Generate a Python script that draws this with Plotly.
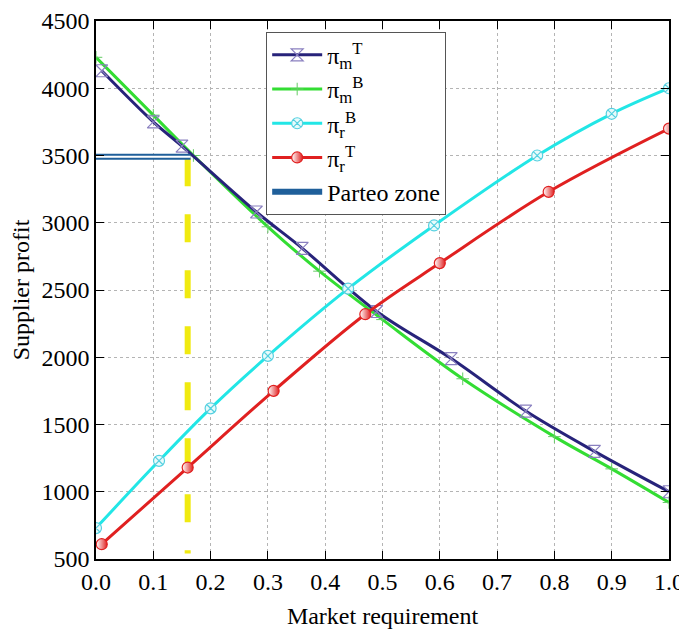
import plotly.graph_objects as go

# Data
x_mT = [0.01, 0.10, 0.15, 0.28, 0.36, 0.49, 0.62, 0.75, 0.87, 1.00]
y_mT = [4130, 3750, 3570, 3080, 2810, 2340, 1990, 1600, 1300, 1000]

x_mB = [0.00, 0.10, 0.17, 0.30, 0.39, 0.50, 0.64, 0.80, 0.90, 1.00]
y_mB = [4230, 3800, 3500, 2970, 2640, 2280, 1840, 1410, 1170, 920]

x_rB = [0.00, 0.11, 0.20, 0.30, 0.44, 0.59, 0.77, 0.90, 1.00]
y_rB = [730, 1230, 1620, 2010, 2510, 2980, 3500, 3810, 4000]

x_rT = [0.01, 0.16, 0.31, 0.47, 0.60, 0.79, 1.00]
y_rT = [610, 1180, 1750, 2320, 2700, 3230, 3700]

pareto_x = [0.0, 0.165]
pareto_y = [3490, 3490]
vline_x = [0.16, 0.16]
vline_y = [3480, 540]

x_ticks = [0.0, 0.1, 0.2, 0.3, 0.4, 0.5, 0.6, 0.7, 0.8, 0.9, 1.0]
y_ticks = [500, 1000, 1500, 2000, 2500, 3000, 3500, 4000, 4500]

FONT = "Liberation Serif"
FS = 24

fig = go.Figure()

fig.add_trace(go.Scatter(x=vline_x, y=vline_y, mode="lines", showlegend=False,
                         line=dict(color="#f0ea10", width=6, dash="28px,28px")))

fig.add_trace(go.Scatter(x=x_mB, y=y_mB, mode="lines+markers", name="π<sub>m</sub><sup>B</sup>",
                         legendrank=2,
                         line=dict(color="#33dd33", width=3, shape="spline"),
                         marker=dict(symbol="cross-thin-open", size=9, color="#66cc66",
                                     line=dict(width=1, color="#66cc66"))))
fig.add_trace(go.Scatter(x=x_mT, y=y_mT, mode="lines+markers", name="π<sub>m</sub><sup>T</sup>",
                         legendrank=1,
                         line=dict(color="#27237a", width=3, shape="spline"),
                         marker=dict(symbol="hourglass-open", size=12, color="#8a80c0",
                                     line=dict(width=1.2, color="#8a80c0"))))
fig.add_trace(go.Scatter(x=x_rB, y=y_rB, mode="lines+markers", name="π<sub>r</sub><sup>B</sup>",
                         legendrank=3,
                         line=dict(color="#22e6e6", width=3, shape="spline"),
                         marker=dict(symbol="circle-x", size=11, color="#e8fbfb",
                                     line=dict(width=1.2, color="#55d0e0"))))
fig.add_trace(go.Scatter(x=x_rT, y=y_rT, mode="lines+markers", name="π<sub>r</sub><sup>T</sup>",
                         legendrank=4,
                         line=dict(color="#e02020", width=3, shape="spline"),
                         marker=dict(symbol="circle", size=11, color="white",
                                     gradient=dict(type="horizontal", color="#e02020"),
                                     line=dict(width=1.2, color="#e02020"))))

fig.add_trace(go.Scatter(x=pareto_x, y=pareto_y, mode="lines", name="Parteo zone",
                         legendrank=5,
                         line=dict(color="#1f5f9a", width=6)))
fig.add_trace(go.Scatter(x=pareto_x, y=pareto_y, mode="lines", showlegend=False,
                         line=dict(color="white", width=2)))

axis_common = dict(showline=True, linecolor="black", linewidth=1.5, mirror="ticks",
                   ticks="inside", ticklen=8, tickcolor="black", automargin=False,
                   ticklabeloverflow="allow",
                   showgrid=True, gridcolor="#b4b4b4", griddash="3px,3px", gridwidth=1,
                   zeroline=False, tickfont=dict(family=FONT, size=FS, color="black"))

fig.update_xaxes(range=[0, 1.0], tickvals=x_ticks, ticktext=[f"{v:.1f}" for v in x_ticks],
                 title=dict(text="Market requirement", font=dict(family=FONT, size=FS, color="black"),
                            standoff=14), **axis_common)
fig.update_yaxes(range=[500, 4500], tickvals=y_ticks,
                 title=dict(text="Supplier profit", font=dict(family=FONT, size=FS, color="black"),
                            standoff=8), **axis_common)

# the page body adds an 8px offset; the figure is sized to fill the window after it
fig.update_layout(
    width=679, height=627,
    margin=dict(l=88, r=18, t=13, b=76),
    plot_bgcolor="white", paper_bgcolor="white",
    font=dict(family=FONT, size=FS, color="black"),
    legend=dict(x=0.297, y=0.98, xanchor="left", yanchor="top",
                bgcolor="white", bordercolor="#555555", borderwidth=1,
                font=dict(family=FONT, size=FS, color="black"),
                itemwidth=50, traceorder="normal"),
)

fig.write_html("out.html")
